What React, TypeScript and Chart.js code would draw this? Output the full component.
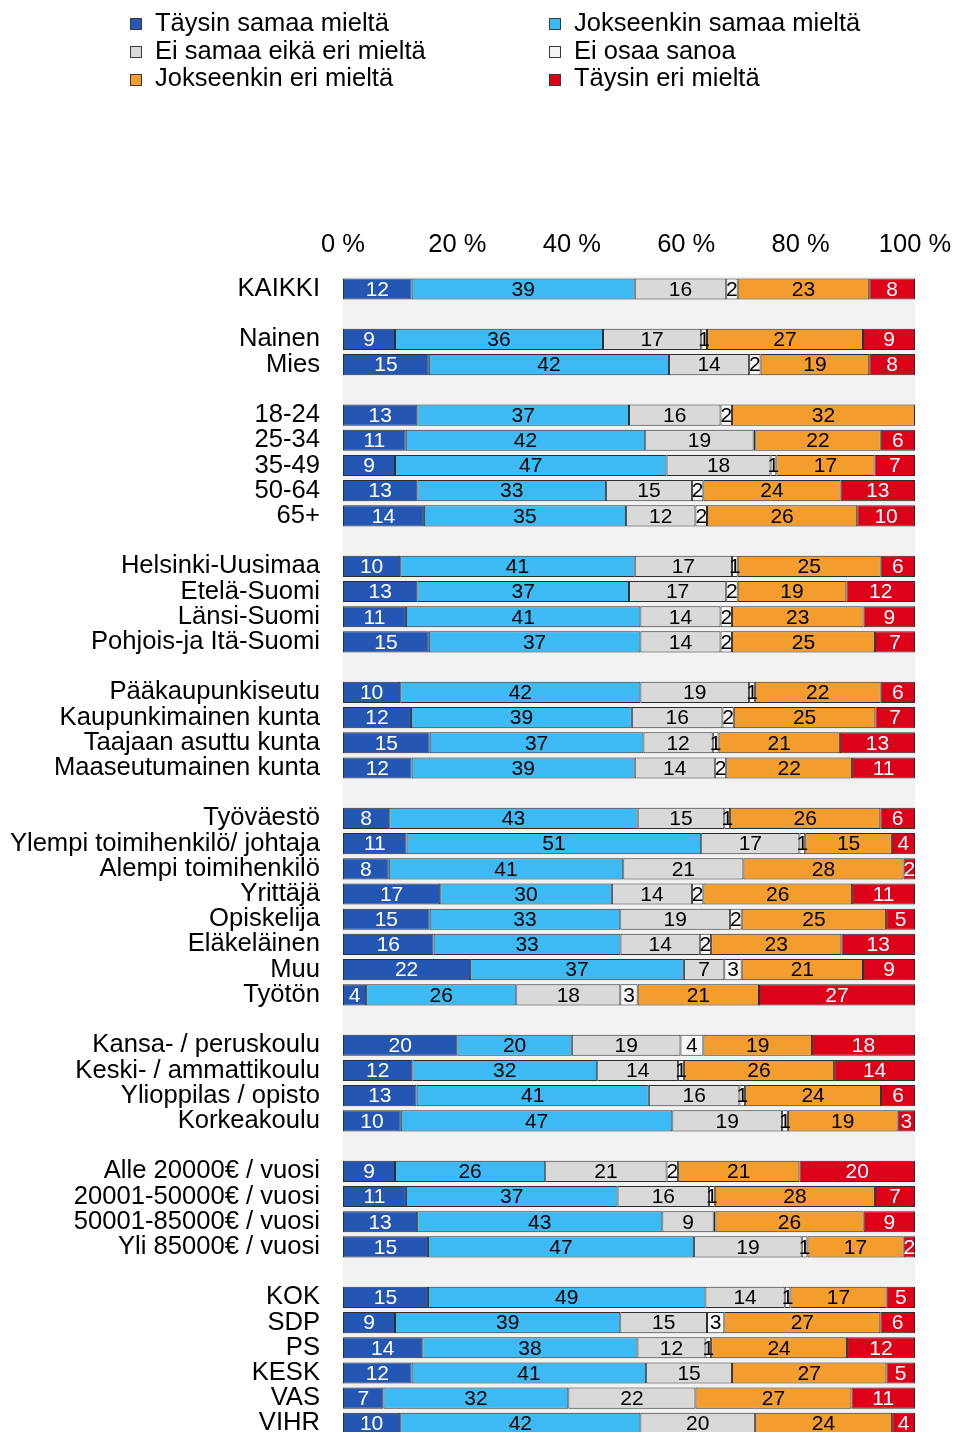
import React, { useEffect, useRef } from "react";
import { Chart, registerables } from "chart.js";

Chart.register(...registerables);

const FONT = '"Liberation Sans", Arial, sans-serif';

const categories = [
  "KAIKKI", "",
  "Nainen", "Mies", "",
  "18-24", "25-34", "35-49", "50-64", "65+", "",
  "Helsinki-Uusimaa", "Etelä-Suomi", "Länsi-Suomi", "Pohjois-ja Itä-Suomi", "",
  "Pääkaupunkiseutu", "Kaupunkimainen kunta", "Taajaan asuttu kunta", "Maaseutumainen kunta", "",
  "Työväestö", "Ylempi toimihenkilö/ johtaja", "Alempi toimihenkilö", "Yrittäjä", "Opiskelija", "Eläkeläinen", "Muu", "Työtön", "",
  "Kansa- / peruskoulu", "Keski- / ammattikoulu", "Ylioppilas / opisto", "Korkeakoulu", "",
  "Alle 20000€ / vuosi", "20001-50000€ / vuosi", "50001-85000€ / vuosi", "Yli 85000€ / vuosi", "",
  "KOK", "SDP", "PS", "KESK", "VAS", "VIHR",
];

const seriesNames = [
  "Täysin samaa mieltä",
  "Jokseenkin samaa mieltä",
  "Ei samaa eikä eri mieltä",
  "Ei osaa sanoa",
  "Jokseenkin eri mieltä",
  "Täysin eri mieltä",
];

const taysinSamaa = [12, null, 9, 15, null, 13, 11, 9, 13, 14, null, 10, 13, 11, 15, null, 10, 12, 15, 12, null, 8, 11, 8, 17, 15, 16, 22, 4, null, 20, 12, 13, 10, null, 9, 11, 13, 15, null, 15, 9, 14, 12, 7, 10];
const jokseenkinSamaa = [39, null, 36, 42, null, 37, 42, 47, 33, 35, null, 41, 37, 41, 37, null, 42, 39, 37, 39, null, 43, 51, 41, 30, 33, 33, 37, 26, null, 20, 32, 41, 47, null, 26, 37, 43, 47, null, 49, 39, 38, 41, 32, 42];
const eiSamaaEikaEri = [16, null, 17, 14, null, 16, 19, 18, 15, 12, null, 17, 17, 14, 14, null, 19, 16, 12, 14, null, 15, 17, 21, 14, 19, 14, 7, 18, null, 19, 14, 16, 19, null, 21, 16, 9, 19, null, 14, 15, 12, 15, 22, 20];
const eiOsaaSanoa = [2, null, 1, 2, null, 2, 0.3, 1, 2, 2, null, 1, 2, 2, 2, null, 1, 2, 1, 2, null, 1, 1, 0, 2, 2, 2, 3, 3, null, 4, 1, 1, 1, null, 2, 1, 0.3, 1, null, 1, 3, 1, 0, 0, 0];
const jokseenkinEri = [23, null, 27, 19, null, 32, 22, 17, 24, 26, null, 25, 19, 23, 25, null, 22, 25, 21, 22, null, 26, 15, 28, 26, 25, 23, 21, 21, null, 19, 26, 24, 19, null, 21, 28, 26, 17, null, 17, 27, 24, 27, 27, 24];
const taysinEri = [8, null, 9, 8, null, 0, 6, 7, 13, 10, null, 6, 12, 9, 7, null, 6, 7, 13, 11, null, 6, 4, 2, 11, 5, 13, 9, 27, null, 18, 14, 6, 3, null, 20, 7, 9, 2, null, 5, 6, 12, 5, 11, 4];

const seriesValues = [taysinSamaa, jokseenkinSamaa, eiSamaaEikaEri, eiOsaaSanoa, jokseenkinEri, taysinEri];

const xTickLabels = ["0 %", "20 %", "40 %", "60 %", "80 %", "100 %"];

const colors = ["#2457B3", "#3DBAF3", "#D9D9D9", "#F5F5F5", "#F29D2E", "#DC0019"];
const labelColors = ["#FFFFFF", "#000000", "#000000", "#000000", "#000000", "#FFFFFF"];

const rowSums = categories.map((_, i) => {
  let s = 0;
  let any = false;
  seriesValues.forEach((arr) => {
    const v = arr[i];
    if (v != null) {
      s += v;
      any = true;
    }
  });
  return any ? s : null;
});

const bgPlugin = {
  id: "plotBackground",
  beforeDatasetsDraw(chart: any) {
    const { ctx, chartArea } = chart;
    ctx.save();
    ctx.fillStyle = "#F2F2F2";
    ctx.fillRect(chartArea.left, chartArea.top, chartArea.right - chartArea.left, chartArea.bottom - chartArea.top);
    ctx.restore();
  },
};

const valueLabelPlugin = {
  id: "valueLabels",
  afterDatasetsDraw(chart: any) {
    const ctx = chart.ctx;
    ctx.save();
    ctx.font = `21px ${FONT}`;
    ctx.textAlign = "center";
    ctx.textBaseline = "middle";
    chart.data.datasets.forEach((_ds: any, di: number) => {
      const meta = chart.getDatasetMeta(di);
      const raw = seriesValues[di];
      meta.data.forEach((el: any, i: number) => {
        const v = raw[i];
        if (v == null || v < 0.5) return;
        const p = el.getProps(["x", "y", "base"], true);
        ctx.fillStyle = labelColors[di];
        ctx.fillText(String(Math.round(v)), (p.x + p.base) / 2, p.y + 1);
      });
    });
    ctx.restore();
  },
};

const legendPos = [
  { left: 130, textLeft: 155, row: 0 },
  { left: 549, textLeft: 574, row: 0 },
  { left: 130, textLeft: 155, row: 1 },
  { left: 549, textLeft: 574, row: 1 },
  { left: 130, textLeft: 155, row: 2 },
  { left: 549, textLeft: 574, row: 2 },
];

export default function App() {
  const canvasRef = useRef<HTMLCanvasElement | null>(null);

  useEffect(() => {
    if (!canvasRef.current) return;
    const datasets = seriesValues.map((arr, di) => ({
      label: seriesNames[di],
      data: arr.map((v, i) => (v == null || rowSums[i] == null ? null : (v / (rowSums[i] as number)) * 100)),
      backgroundColor: colors[di],
      borderColor: "#2E2E2E",
      borderWidth: 1,
      borderSkipped: false,
      barPercentage: 0.84,
      categoryPercentage: 1,
    }));

    const chart = new Chart(canvasRef.current, {
      type: "bar",
      data: { labels: categories, datasets },
      options: {
        indexAxis: "y",
        responsive: false,
        animation: false,
        devicePixelRatio: 1,
        layout: { padding: { left: 0, right: 38, top: 0, bottom: 4 } },
        plugins: {
          legend: { display: false },
          tooltip: { enabled: false },
        },
        scales: {
          x: {
            position: "top",
            stacked: true,
            min: 0,
            max: 100,
            grid: { display: false, drawTicks: false },
            border: { display: false },
            ticks: {
              stepSize: 20,
              padding: 16,
              color: "#000",
              font: { family: FONT, size: 25.5 },
              callback: (_v: any, i: number) => xTickLabels[i],
            },
            afterFit: (scale: any) => {
              scale.height = 276.4;
              scale.paddingLeft = 0;
              scale.paddingRight = 0;
            },
          },
          y: {
            stacked: true,
            grid: { display: false, drawTicks: false },
            border: { display: false },
            ticks: {
              autoSkip: false,
              padding: 23,
              color: "#000",
              font: { family: FONT, size: 25.6 },
            },
            afterFit: (scale: any) => {
              scale.width = 343;
              scale.paddingTop = 0;
              scale.paddingBottom = 0;
            },
          },
        },
      } as any,
      plugins: [bgPlugin, valueLabelPlugin],
    });
    return () => chart.destroy();
  }, []);

  return (
    <div
      style={{
        position: "absolute",
        left: 0,
        top: 0,
        width: 953,
        height: 1432,
        overflow: "hidden",
        background: "#fff",
      }}
    >
      <canvas ref={canvasRef} width={953} height={1440} style={{ display: "block" }} />
      {seriesNames.map((name, i) => {
        const p = legendPos[i];
        return (
          <React.Fragment key={name}>
            <div
              style={{
                position: "absolute",
                left: p.left,
                top: 17.6 + p.row * 28,
                width: 12,
                height: 12,
                boxSizing: "border-box",
                background: colors[i],
                border: "1px solid #3A3A3A",
              }}
            />
            <div
              style={{
                position: "absolute",
                left: p.textLeft,
                top: 9 + p.row * 27.6,
                fontFamily: FONT,
                fontSize: 25.5,
                lineHeight: "27.6px",
                color: "#000",
                whiteSpace: "nowrap",
              }}
            >
              {name}
            </div>
          </React.Fragment>
        );
      })}
    </div>
  );
}
